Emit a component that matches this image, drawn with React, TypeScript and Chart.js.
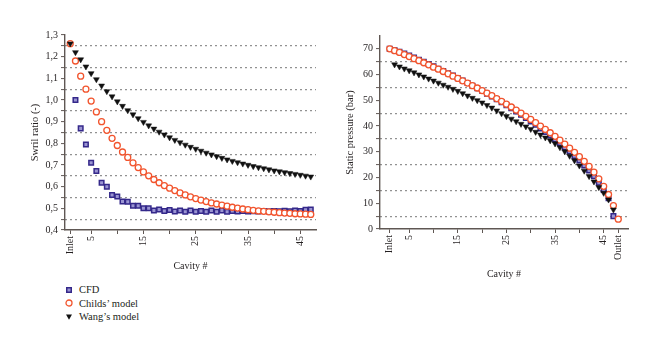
import React, { useEffect, useRef } from "react";
import { Chart, registerables } from "chart.js";

Chart.register(...registerables);

const FONT = '"Liberation Serif", "DejaVu Serif", serif';
const TEXT = "#231f20";
const AXIS = "#5f5753";
const GRID = "#4a4a4a";

const CFD_FILL = "#9a94d2";
const CFD_EDGE = "#34288a";
const CHILDS_EDGE = "#f2542d";
const WANG_FILL = "#111111";

// ---------- Left chart: swirl ratio ----------
const cfdSwirlStart = 2;
const cfdSwirl = [
  1.0, 0.869, 0.795, 0.71, 0.672, 0.618, 0.6, 0.562, 0.555, 0.532,
  0.53, 0.512, 0.512, 0.5, 0.5, 0.49, 0.495, 0.488, 0.492, 0.485,
  0.49, 0.484, 0.49, 0.484, 0.488, 0.484, 0.49, 0.484, 0.49, 0.484,
  0.488, 0.485, 0.488, 0.485, 0.487, 0.485, 0.488, 0.486, 0.488, 0.486,
  0.489, 0.487, 0.49, 0.488, 0.493, 0.495,
];
const childsSwirlStart = 1;
const childsSwirl = [
  1.26, 1.18, 1.11, 1.05, 0.995, 0.945, 0.9, 0.86, 0.823, 0.79,
  0.76, 0.735, 0.71, 0.688, 0.668, 0.65, 0.633, 0.618, 0.605, 0.593,
  0.582, 0.571, 0.562, 0.553, 0.545, 0.538, 0.531, 0.525, 0.52, 0.515,
  0.51, 0.505, 0.501, 0.497, 0.494, 0.491, 0.488, 0.486, 0.484, 0.482,
  0.48, 0.478, 0.477, 0.475, 0.474, 0.473, 0.472,
];
const wangSwirlStart = 1;
const wangSwirl = [
  1.26, 1.22, 1.187, 1.154, 1.123, 1.095, 1.066, 1.04, 1.016, 0.993,
  0.972, 0.952, 0.933, 0.915, 0.898, 0.882, 0.867, 0.853, 0.84, 0.827,
  0.815, 0.804, 0.793, 0.783, 0.774, 0.765, 0.756, 0.748, 0.74, 0.732,
  0.725, 0.718, 0.712, 0.706, 0.7, 0.694, 0.689, 0.684, 0.679, 0.674,
  0.67, 0.666, 0.662, 0.658, 0.654, 0.65, 0.646,
];

const swirlMajorTicks = [0.4, 0.5, 0.6, 0.7, 0.8, 0.9, 1.0, 1.1, 1.2, 1.3];
const swirlGridTicks = [0.45, 0.55, 0.65, 0.75, 0.85, 0.95, 1.05, 1.15, 1.25];
const swirlXTicks = [1, 5, 10, 15, 20, 25, 30, 35, 40, 45];
const swirlXLabels = ["Inlet", "5", "", "15", "", "25", "", "35", "", "45"];

// ---------- Right chart: static pressure ----------
const cfdPressureStart = 1;
const cfdPressure = [
  70.0, 69.5, 68.9, 68.2, 67.4, 66.6, 65.8, 65.0, 64.1, 63.2,
  62.3, 61.4, 60.5, 59.6, 58.6, 57.7, 56.7, 55.7, 54.7, 53.7,
  52.6, 51.5, 50.4, 49.3, 48.1, 46.9, 45.7, 44.4, 43.1, 41.8,
  40.5, 39.1, 37.7, 36.3, 34.8, 33.3, 31.7, 30.1, 28.4, 26.6,
  24.7, 22.7, 20.5, 18.0, 15.2, 12.0, 5.0,
];
const childsPressureStart = 1;
const childsPressure = [
  70.0, 69.3, 68.6, 67.8, 67.0, 66.2, 65.4, 64.6, 63.8, 62.9,
  62.1, 61.2, 60.3, 59.4, 58.5, 57.6, 56.7, 55.7, 54.8, 53.8,
  52.8, 51.8, 50.7, 49.6, 48.5, 47.4, 46.2, 45.0, 43.8, 42.6,
  41.3, 40.0, 38.7, 37.4, 36.0, 34.5, 33.0, 31.4, 29.8, 28.1,
  26.3, 24.3, 22.1, 19.5, 16.6, 13.4, 9.1, 3.8,
];
const wangPressureStart = 2;
const wangPressure = [
  63.9, 63.1, 62.3, 61.6, 60.8, 60.0, 59.2, 58.4, 57.6, 56.8,
  56.0, 55.2, 54.4, 53.6, 52.7, 51.8, 50.9, 50.0, 49.1, 48.1,
  47.1, 46.0, 44.9, 43.8, 42.8, 41.8, 40.8, 39.8, 38.8, 37.7,
  36.6, 35.5, 34.4, 33.2, 31.7, 30.1, 28.4, 26.6, 24.6, 22.6,
  20.5, 18.4, 16.2, 14.0, 11.4, 7.5,
];

const pressureMajorTicks = [0, 10, 20, 30, 40, 50, 60, 70];
const pressureGridTicks = [5, 15, 25, 35, 45, 55, 65];
const pressureXTicks = [1, 5, 10, 15, 20, 25, 30, 35, 40, 45, 48];
const pressureXLabels = ["Inlet", "5", "", "15", "", "25", "", "35", "", "45", "Outlet"];

const toPoints = (start: number, values: number[]) =>
  values.map((v, i) => ({ x: start + i, y: v }));

const near = (list: number[], v: number) => list.some((m) => Math.abs(m - v) < 1e-6);

type Cfg = {
  cfd: { x: number; y: number }[];
  childs: { x: number; y: number }[];
  wang: { x: number; y: number }[];
  xMin: number;
  xMax: number;
  xTicks: number[];
  xLabels: string[];
  yMin: number;
  yMax: number;
  yMajor: number[];
  yGrid: number[];
  yFmt: (v: number) => string;
  yTitle: string;
  yTitlePad: number;
  yWidth: number;
  xHeight: number;
  xTitlePadBottom: number;
  padTop: number;
  padRight: number;
};

function buildConfig(c: Cfg): any {
  const yAll = [...c.yMajor, ...c.yGrid].sort((a, b) => a - b);
  return {
    type: "scatter",
    data: {
      datasets: [
        {
          label: "CFD",
          data: c.cfd,
          order: 2,
          pointStyle: "rect",
          pointRadius: 3.2,
          pointBackgroundColor: CFD_FILL,
          pointBorderColor: CFD_EDGE,
          pointBorderWidth: 1.5,
          showLine: false,
        },
        {
          label: "Childs\u2019 model",
          data: c.childs,
          order: 1,
          pointStyle: "circle",
          pointRadius: 3,
          pointBackgroundColor: "#ffffff",
          pointBorderColor: CHILDS_EDGE,
          pointBorderWidth: 1.3,
          showLine: false,
        },
        {
          label: "Wang\u2019s model",
          data: c.wang,
          order: 0,
          pointStyle: "triangle",
          rotation: 180,
          pointRotation: 180,
          pointRadius: 3.4,
          pointBackgroundColor: WANG_FILL,
          pointBorderColor: WANG_FILL,
          pointBorderWidth: 0.5,
          showLine: false,
        },
      ],
    },
    options: {
      responsive: false,
      animation: false,
      devicePixelRatio: 1,
      layout: { padding: { top: c.padTop, right: c.padRight, left: 0, bottom: 0 } },
      plugins: { legend: { display: false }, tooltip: { enabled: false } },
      scales: {
        x: {
          type: "linear",
          min: c.xMin,
          max: c.xMax,
          afterBuildTicks: (s: any) => {
            s.ticks = c.xTicks.map((v) => ({ value: v }));
          },
          afterFit: (s: any) => {
            s.height = c.xHeight;
          },
          ticks: {
            autoSkip: false,
            minRotation: 90,
            maxRotation: 90,
            padding: 2,
            color: TEXT,
            font: { family: FONT, size: 10 },
            callback: (v: number) => {
              const i = c.xTicks.findIndex((t) => Math.abs(t - v) < 1e-6);
              return i >= 0 ? c.xLabels[i] : "";
            },
          },
          grid: {
            display: true,
            drawOnChartArea: false,
            drawTicks: true,
            tickLength: 4,
            tickColor: AXIS,
            tickWidth: 1,
          },
          border: { display: true, color: AXIS, width: 1.4 },
          title: {
            display: true,
            text: "Cavity #",
            color: TEXT,
            font: { family: FONT, size: 10 },
            padding: { top: 0, bottom: c.xTitlePadBottom },
          },
        },
        y: {
          type: "linear",
          min: c.yMin,
          max: c.yMax,
          afterBuildTicks: (s: any) => {
            s.ticks = yAll.map((v) => ({ value: v }));
          },
          afterFit: (s: any) => {
            s.width = c.yWidth;
          },
          ticks: {
            autoSkip: false,
            padding: 3,
            color: TEXT,
            font: { family: FONT, size: 10 },
            callback: (v: number) => (near(c.yMajor, v) ? c.yFmt(v) : ""),
          },
          grid: {
            display: true,
            drawOnChartArea: true,
            drawTicks: true,
            tickLength: 4,
            lineWidth: 1.2,
            color: (ctx: any) =>
              ctx.tick && near(c.yGrid, ctx.tick.value) ? GRID : "rgba(0,0,0,0)",
            tickColor: AXIS,
            tickWidth: 1,
          },
          border: { display: true, color: AXIS, width: 1.4, dash: [1.2, 3.8] },
          title: {
            display: true,
            text: c.yTitle,
            color: TEXT,
            font: { family: FONT, size: 10.5 },
            padding: { top: c.yTitlePad, bottom: 0 },
          },
        },
      },
    },
  };
}

function Marker({ kind }: { kind: string }) {
  if (kind === "cfd")
    return (
      <svg width={10} height={10} style={{ display: "block" }}>
        <rect x={2.75} y={2.75} width={4.5} height={4.5} fill={CFD_FILL} stroke={CFD_EDGE} strokeWidth={1.5} />
      </svg>
    );
  if (kind === "childs")
    return (
      <svg width={10} height={10} style={{ display: "block" }}>
        <circle cx={5} cy={5} r={3} fill="#fff" stroke={CHILDS_EDGE} strokeWidth={1.3} />
      </svg>
    );
  return (
    <svg width={10} height={10} style={{ display: "block" }}>
      <polygon points="2,2.4 8,2.4 5,7.8" fill={WANG_FILL} />
    </svg>
  );
}

const legendItems = [
  { kind: "cfd", label: "CFD" },
  { kind: "childs", label: "Childs\u2019 model" },
  { kind: "wang", label: "Wang\u2019s model" },
];

export default function App() {
  const leftRef = useRef<HTMLCanvasElement>(null);
  const rightRef = useRef<HTMLCanvasElement>(null);

  useEffect(() => {
    const left = new Chart(
      leftRef.current as HTMLCanvasElement,
      buildConfig({
        cfd: toPoints(cfdSwirlStart, cfdSwirl),
        childs: toPoints(childsSwirlStart, childsSwirl),
        wang: toPoints(wangSwirlStart, wangSwirl),
        xMin: 0,
        xMax: 48,
        xTicks: swirlXTicks,
        xLabels: swirlXLabels,
        yMin: 0.4,
        yMax: 1.3,
        yMajor: swirlMajorTicks,
        yGrid: swirlGridTicks,
        yFmt: (v) => v.toFixed(1).replace(".", ","),
        yTitle: "Swril ratio (-)",
        yTitlePad: 29,
        yWidth: 65,
        xHeight: 45,
        xTitlePadBottom: 3,
        padTop: 35,
        padRight: 14,
      })
    );
    const right = new Chart(
      rightRef.current as HTMLCanvasElement,
      buildConfig({
        cfd: toPoints(cfdPressureStart, cfdPressure),
        childs: toPoints(childsPressureStart, childsPressure),
        wang: toPoints(wangPressureStart, wangPressure),
        xMin: -1,
        xMax: 50,
        xTicks: pressureXTicks,
        xLabels: pressureXLabels,
        yMin: 0,
        yMax: 75,
        yMajor: pressureMajorTicks,
        yGrid: pressureGridTicks,
        yFmt: (v) => String(Math.round(v)),
        yTitle: "Static pressure (bar)",
        yTitlePad: 14,
        yWidth: 50,
        xHeight: 56,
        xTitlePadBottom: 5,
        padTop: 36,
        padRight: 32,
      })
    );
    return () => {
      left.destroy();
      right.destroy();
    };
  }, []);

  return (
    <div
      style={{
        position: "absolute",
        left: 0,
        top: 0,
        width: 660,
        height: 356,
        background: "#ffffff",
        overflow: "hidden",
      }}
    >
      <canvas
        ref={leftRef}
        width={330}
        height={275}
        style={{ position: "absolute", left: 0, top: 0, width: 330, height: 275 }}
      />
      <canvas
        ref={rightRef}
        width={330}
        height={285}
        style={{ position: "absolute", left: 330, top: 0, width: 330, height: 285 }}
      />
      <div
        style={{
          position: "absolute",
          left: 64,
          top: 283,
          fontFamily: FONT,
          fontSize: 10.5,
          color: TEXT,
        }}
      >
        {legendItems.map((it) => (
          <div
            key={it.kind}
            style={{ display: "flex", alignItems: "center", height: 13.5, whiteSpace: "nowrap" }}
          >
            <Marker kind={it.kind} />
            <span style={{ marginLeft: 5, lineHeight: "13.5px" }}>{it.label}</span>
          </div>
        ))}
      </div>
    </div>
  );
}
